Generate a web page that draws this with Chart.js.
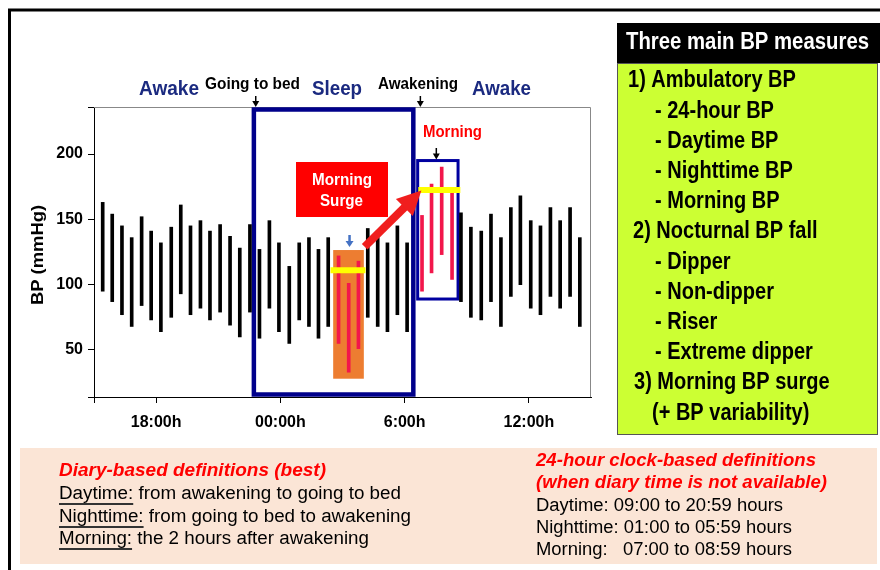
<!DOCTYPE html>
<html><head><meta charset="utf-8">
<script src="https://cdn.jsdelivr.net/npm/chart.js@4.4.1/dist/chart.umd.min.js"></script>
<style>html,body{margin:0;padding:0;background:#fff;overflow:hidden}canvas{display:block}</style>
</head><body>
<canvas id="c" width="880" height="570" style="width:880px;height:570px"></canvas>
<script>
// ---- DATA (x = hours elapsed since 15:00) ----
const blackTimes = [0.42,0.88,1.35,1.82,2.30,2.76,3.23,3.73,4.19,4.66,5.14,5.60,6.09,6.57,7.04,7.53,7.99,8.47,8.93,9.43,9.91,10.38,10.84,11.31,13.22,13.70,14.17,14.65,15.12,17.72,18.20,18.70,19.17,19.65,20.13,20.59,21.09,21.56,22.04,22.51,22.99,23.46];
const blackSys   = [163,154,145,136,152,141,132,144,161,145,149,141,146,137,128,146,127,149,132,114,132,136,127,136,143,136,132,145,132,155,144,141,154,136,159,168,149,145,159,149,159,136];
const blackDia   = [95,87,77,68,84,73,64,75,93,77,82,73,79,69,60,79,59,82,64,55,73,68,59,68,75,68,64,77,64,87,75,73,87,68,91,100,82,77,91,82,91,68];
const surgeTimes = [11.81,12.30,12.77];
const surgeSys   = [122,101,118];
const surgeDia   = [55,33,51];
const morningTimes = [15.84,16.30,16.79,17.29];
const morningSys   = [153,177,190,170];
const morningDia   = [95,109,123,104];
const nightMeanSpan = [11.42,13.11];
const nightMean = 111;
const morningMeanSpan = [15.66,17.69];
const morningMean = 172.5;
const sleepSpan = [7.72,15.42];
const morningWindowX = [15.63,17.58];
const morningWindowY = [89,195];
const surgeWindowX = [11.55,13.03];
const surgeWindowY = [28,126.5];
const bedTime = 7.81, wakeTime = 15.76, morningMark = 16.53, surgeMark = 12.34;
const xTickValues = [0,3,9,15,21];
const xTickLabels = ['','18:00h','00:00h','6:00h','12:00h'];
const yTickValues = [14,50,100,150,200,236];
const yTickLabels = ['','50','100','150','200',''];
const panelTitle = 'Three main BP measures';
const panelLines = ['1) Ambulatory BP','- 24-hour BP','- Daytime BP','- Nighttime BP','- Morning BP','2) Nocturnal BP fall','- Dipper','- Non-dipper','- Riser','- Extreme dipper','3) Morning BP surge','(+ BP variability)'];
const panelIndent = [628,655,655,655,655,633,655,655,655,655,634,652];

const FF = '"Liberation Sans", Arial, sans-serif';
const NAVY = '#1b2a80';

function fitText(ctx, text, x, y, w, font, color) {
  ctx.save();
  ctx.font = font; ctx.fillStyle = color; ctx.textBaseline = 'middle'; ctx.textAlign = 'left';
  const m = ctx.measureText(text).width;
  ctx.translate(x, y); ctx.scale(w / m, 1); ctx.fillText(text, 0, 0);
  ctx.restore();
}
function scaledText(ctx, text, x, y, sx, font, color) {
  ctx.save();
  ctx.font = font; ctx.fillStyle = color; ctx.textBaseline = 'middle'; ctx.textAlign = 'left';
  ctx.translate(x, y); ctx.scale(sx, 1); ctx.fillText(text, 0, 0);
  ctx.restore();
}
function arrowDown(ctx, x, y0, yTip, color, hw, hl, lw) {
  ctx.save();
  ctx.strokeStyle = color; ctx.fillStyle = color; ctx.lineWidth = lw;
  ctx.beginPath(); ctx.moveTo(x, y0); ctx.lineTo(x, yTip - hl + 1); ctx.stroke();
  ctx.beginPath(); ctx.moveTo(x - hw, yTip - hl); ctx.lineTo(x + hw, yTip - hl); ctx.lineTo(x, yTip); ctx.closePath(); ctx.fill();
  ctx.restore();
}
function bigArrow(ctx, x1, y1, x2, y2, color, lw, hl, hw) {
  const a = Math.atan2(y2 - y1, x2 - x1);
  const bx = x2 - hl * Math.cos(a), by = y2 - hl * Math.sin(a);
  ctx.save();
  ctx.strokeStyle = color; ctx.fillStyle = color; ctx.lineWidth = lw; ctx.lineCap = 'butt';
  ctx.beginPath(); ctx.moveTo(x1, y1); ctx.lineTo(bx + 2 * Math.cos(a), by + 2 * Math.sin(a)); ctx.stroke();
  ctx.beginPath();
  ctx.moveTo(x2, y2);
  ctx.lineTo(bx + hw * Math.sin(a), by - hw * Math.cos(a));
  ctx.lineTo(bx - hw * Math.sin(a), by + hw * Math.cos(a));
  ctx.closePath(); ctx.fill();
  ctx.restore();
}

const overlay = {
  id: 'overlay',
  beforeDraw(chart) {
    const ctx = chart.ctx;
    ctx.save();
    ctx.fillStyle = '#fff'; ctx.fillRect(0, 0, 880, 570);
    // outer frame
    ctx.strokeStyle = '#000'; ctx.lineWidth = 3;
    ctx.beginPath(); ctx.moveTo(9.5, 570); ctx.lineTo(9.5, 10); ctx.lineTo(880, 10); ctx.stroke();
    // right panel
    ctx.fillStyle = '#ccff33'; ctx.fillRect(617, 63, 261, 371);
    ctx.strokeStyle = '#555'; ctx.lineWidth = 1; ctx.strokeRect(617.5, 63.5, 260, 371);
    ctx.fillStyle = '#000'; ctx.fillRect(617, 23, 263, 40);
    fitText(ctx, panelTitle, 626, 43, 243, 'bold 23px ' + FF, '#fff');
    panelLines.forEach((t, i) => {
      scaledText(ctx, t, panelIndent[i], 81 + i * 30.2, 0.87, 'bold 23px ' + FF, '#000');
    });
    // bottom panel
    ctx.fillStyle = '#fbe5d6'; ctx.fillRect(20, 448, 857, 116);
    fitText(ctx, 'Diary-based definitions (best)', 59, 471, 267, 'italic bold 18px ' + FF, '#ff0000');
    const defs = [['Daytime:', ' from awakening to going to bed', 494, 342], ['Nighttime:', ' from going to bed to awakening', 517, 352], ['Morning:', ' the 2 hours after awakening', 539, 310]];
    defs.forEach(d => {
      ctx.font = '18px ' + FF;
      const full = d[0] + d[1];
      const s = d[3] / ctx.measureText(full).width;
      const lw = ctx.measureText(d[0]).width * s;
      scaledText(ctx, full, 59, d[2], s, '18px ' + FF, '#000');
      ctx.strokeStyle = '#333'; ctx.lineWidth = 1.8;
      ctx.beginPath(); ctx.moveTo(59, d[2] + 10); ctx.lineTo(59 + lw, d[2] + 10); ctx.stroke();
    });
    fitText(ctx, '24-hour clock-based definitions', 536, 461, 280, 'italic bold 18px ' + FF, '#ff0000');
    fitText(ctx, '(when diary time is not available)', 536, 483, 291, 'italic bold 18px ' + FF, '#ff0000');
    fitText(ctx, 'Daytime: 09:00 to 20:59 hours', 536, 506, 247, '18px ' + FF, '#000');
    fitText(ctx, 'Nighttime: 01:00 to 05:59 hours', 536, 528, 256, '18px ' + FF, '#000');
    fitText(ctx, 'Morning:   07:00 to 08:59 hours', 536, 550, 256, '18px ' + FF, '#000');
    // top labels
    fitText(ctx, 'Awake', 139, 89, 60, 'bold 20px ' + FF, NAVY);
    fitText(ctx, 'Going to bed', 205, 85, 95, 'bold 16px ' + FF, '#000');
    fitText(ctx, 'Sleep', 312, 89, 50, 'bold 20px ' + FF, NAVY);
    fitText(ctx, 'Awakening', 378, 85, 80, 'bold 16px ' + FF, '#000');
    fitText(ctx, 'Awake', 472, 89, 59, 'bold 20px ' + FF, NAVY);
    // y title
    ctx.save(); ctx.translate(38, 255); ctx.rotate(-Math.PI / 2);
    fitText(ctx, 'BP (mmHg)', -50, 0, 100, 'bold 17px ' + FF, '#000');
    ctx.restore();
    ctx.restore();
  },
  beforeDatasetsDraw(chart) {
    const ctx = chart.ctx, xs = chart.scales.x, ys = chart.scales.y, ca = chart.chartArea;
    const px = v => xs.getPixelForValue(v), py = v => ys.getPixelForValue(v);
    ctx.save();
    // plot frame top/right
    ctx.strokeStyle = '#888'; ctx.lineWidth = 1;
    ctx.beginPath(); ctx.moveTo(ca.left, ca.top + 0.5); ctx.lineTo(ca.right - 0.5, ca.top + 0.5); ctx.lineTo(ca.right - 0.5, ca.bottom); ctx.stroke();
    // surge window (orange)
    ctx.fillStyle = '#ed7d31';
    ctx.fillRect(px(surgeWindowX[0]), py(surgeWindowY[1]), px(surgeWindowX[1]) - px(surgeWindowX[0]), py(surgeWindowY[0]) - py(surgeWindowY[1]));
    // sleep box
    ctx.strokeStyle = '#00008b'; ctx.lineWidth = 4.5;
    ctx.strokeRect(px(sleepSpan[0]), ca.top + 2.5, px(sleepSpan[1]) - px(sleepSpan[0]), ca.bottom - ca.top - 5);
    // morning box
    ctx.strokeStyle = '#0000a0'; ctx.lineWidth = 3;
    ctx.strokeRect(px(morningWindowX[0]), py(morningWindowY[1]), px(morningWindowX[1]) - px(morningWindowX[0]), py(morningWindowY[0]) - py(morningWindowY[1]));
    ctx.restore();
  },
  afterDatasetsDraw(chart) {
    const ctx = chart.ctx, xs = chart.scales.x, ys = chart.scales.y, ca = chart.chartArea;
    const px = v => xs.getPixelForValue(v), py = v => ys.getPixelForValue(v);
    ctx.save();
    arrowDown(ctx, px(bedTime), 96, ca.top, '#000', 3.5, 6, 1.5);
    arrowDown(ctx, px(wakeTime), 96, ca.top, '#000', 3.5, 6, 1.5);
    arrowDown(ctx, px(morningMark), 148, py(morningWindowY[1]) - 1, '#000', 3.5, 6, 1.5);
    arrowDown(ctx, px(surgeMark), 235, py(surgeWindowY[1]) - 3, '#4472c4', 4, 6, 2.5);
    // Morning Surge label
    ctx.fillStyle = '#ff0000'; ctx.fillRect(296, 162, 92, 55);
    fitText(ctx, 'Morning', 312, 180, 60, 'bold 17px ' + FF, '#fff');
    fitText(ctx, 'Surge', 320, 201, 43, 'bold 17px ' + FF, '#fff');
    // Morning label
    fitText(ctx, 'Morning', 423, 132, 59, 'bold 17px ' + FF, '#ff0000');
    // surge arrow
    bigArrow(ctx, px(13.07), py(129), px(15.81), py(172), '#f01e1e', 8, 24, 12);
    ctx.restore();
  }
};

const toPts = (t, lo, hi) => t.map((x, i) => ({x: x, y: [lo[i], hi[i]]}));
const barStyle = {barThickness: 3, grouped: false, borderWidth: 0};

new Chart(document.getElementById('c'), {
  type: 'bar',
  data: {
    datasets: [
      Object.assign({label: 'BP', data: toPts(blackTimes, blackDia, blackSys), backgroundColor: '#000', order: 3}, barStyle),
      Object.assign({label: 'Surge BP', data: toPts(surgeTimes, surgeDia, surgeSys), backgroundColor: '#f2174b', order: 2}, barStyle),
      Object.assign({label: 'Morning BP', data: toPts(morningTimes, morningDia, morningSys), backgroundColor: '#f2174b', order: 2}, barStyle),
      {type: 'line', label: 'Night mean', data: nightMeanSpan.map(x => ({x: x, y: nightMean})), borderColor: '#ffff00', borderWidth: 6, pointRadius: 0, order: 0, borderCapStyle: 'butt'},
      {type: 'line', label: 'Morning mean', data: morningMeanSpan.map(x => ({x: x, y: morningMean})), borderColor: '#ffff00', borderWidth: 6, pointRadius: 0, order: 0, borderCapStyle: 'butt'}
    ]
  },
  options: {
    responsive: false, animation: false,
    layout: {padding: {left: 54, top: 107, right: 289, bottom: 133}},
    plugins: {legend: {display: false}, tooltip: {enabled: false}},
    scales: {
      x: {
        type: 'linear', min: 0, max: 24, offset: false,
        afterBuildTicks: s => { s.ticks = xTickValues.map(v => ({value: v})); },
        afterFit: s => { s.height = 40; },
        grid: {display: true, offset: false, drawOnChartArea: false, drawTicks: true, tickLength: 6, color: '#000', lineWidth: 1},
        border: {display: true, color: '#000', width: 1},
        ticks: {autoSkip: false, maxRotation: 0, padding: 10, color: '#000', font: {family: FF, size: 16, weight: 'bold'},
          callback: (v) => xTickLabels[xTickValues.indexOf(v)] ?? ''}
      },
      y: {
        min: 14, max: 236,
        afterBuildTicks: s => { s.ticks = yTickValues.map(v => ({value: v})); },
        afterFit: s => { s.width = 40; },
        grid: {display: true, drawOnChartArea: false, drawTicks: true, tickLength: 6, color: '#000', lineWidth: 1},
        border: {display: true, color: '#000', width: 1},
        ticks: {autoSkip: false, padding: 5, color: '#000', font: {family: FF, size: 16, weight: 'bold'},
          callback: (v) => yTickLabels[yTickValues.indexOf(v)] ?? ''}
      }
    }
  },
  plugins: [overlay]
});
</script>
</body></html>
